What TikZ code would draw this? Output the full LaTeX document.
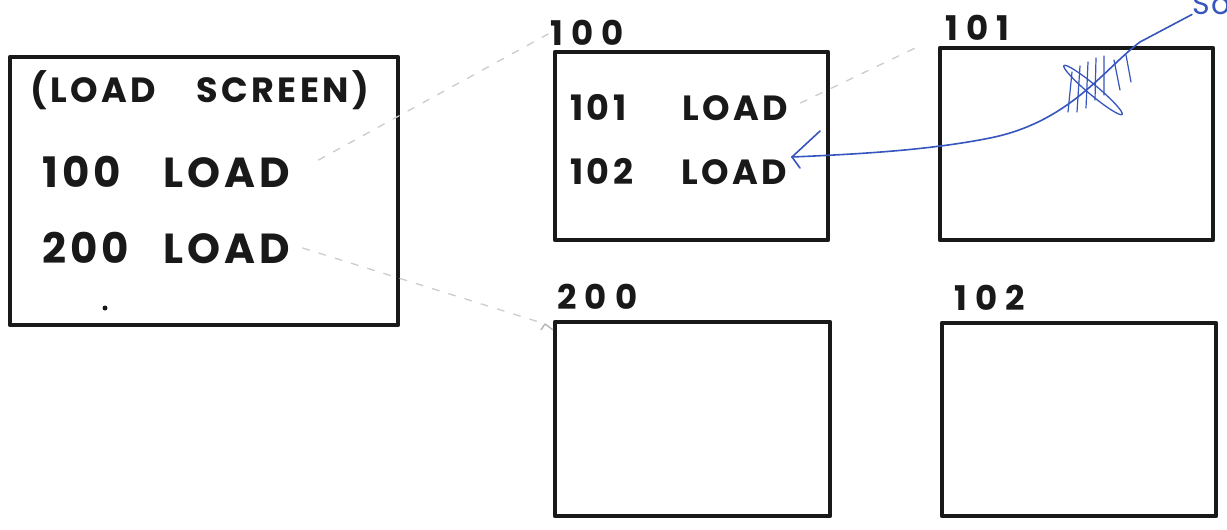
\documentclass[tikz,border=0pt]{standalone}
\usepackage{fontspec}
\newfontfamily\hand[LetterSpace=10]{Poppins}
\newfontfamily\handl[LetterSpace=24]{Poppins}
\newfontfamily\handb[LetterSpace=4]{Poppins}
\usetikzlibrary{calc}
\definecolor{ink}{RGB}{25,25,25}
\definecolor{pen}{RGB}{55,85,190}
\begin{document}
\begin{tikzpicture}[x=1pt,y=-1pt,
  screen/.style={draw=ink, line width=4.5pt, rectangle, inner sep=0pt, line join=round},
  bigtxt/.style={font=\hand\bfseries\fontsize{42}{46}\selectfont, text=ink, inner sep=0pt, anchor=west},
  midtxt/.style={font=\hand\bfseries\fontsize{35}{38}\selectfont, text=ink, inner sep=0pt, anchor=west},
  titletxt/.style={font=\hand\bfseries\fontsize{35}{38}\selectfont, text=ink, inner sep=0pt, anchor=west},
  lbltxt/.style={font=\handl\bfseries\fontsize{34}{38}\selectfont, text=ink, inner sep=0pt, anchor=west},
  faint/.style={draw=black!20, line width=1.3pt, dash pattern=on 7pt off 10pt, line cap=round},
  bluepen/.style={draw=pen, line width=1.6pt, line cap=round, line join=round}]
\useasboundingbox (0,0) rectangle (1227,530);
\fill[white] (0,0) rectangle (1227,530);

% boxes
\node[screen, minimum width=388pt, minimum height=268pt] (load) at (204,191) {};
\node[screen, minimum width=273pt, minimum height=188pt] (b100) at (691.5,146) {};
\node[screen, minimum width=273pt, minimum height=192pt] (b101) at (1076.5,144) {};
\node[screen, minimum width=275pt, minimum height=194pt] (b200) at (692.5,419) {};
\node[screen, minimum width=274pt, minimum height=193pt] (b102) at (1079,419.5) {};

% labels above boxes
\node[lbltxt] (lab100) at (550,33) {100};
\node[lbltxt] (lab101) at (945,28) {101};
\node[lbltxt] (lab200) at (557,297) {200};
\node[lbltxt] (lab102) at (954,298) {102};

% texts in load screen
\node[titletxt] (title) at (30,90) {(LOAD\hspace{40pt}SCREEN)};
\node[bigtxt] (l100) at (42,172) {100\hspace{42pt}LOAD};
\node[bigtxt] (l200) at (42,248) {200\hspace{34pt}LOAD};
\fill[ink] (105,308) circle (2.5);

% texts in box 100
\node[midtxt] (t101) at (570,108) {101\hspace{56pt}LOAD};
\node[midtxt] (t102) at (570,172) {102\hspace{48pt}LOAD};

% faint pencil connectors
\draw[faint] (l100.east) ++(28,-12) coordinate (f1s) -- (lab100.west);
\draw[faint] (l200.east) ++(12,0) coordinate (f2s) -- ($(lab200.south west)+(-12,14)$) coordinate (f2e);
\draw[black!30, line width=1.3pt] (f2e) -- ++(-4,6) (f2e) -- ++(8,6);
\draw[faint] (t101.east) ++(12,-5) coordinate (f3s) -- ($(b101.north west)+(-22,2)$);

% blue pen connector
\node[font=\handb\fontsize{30}{30}\selectfont, text=pen, anchor=base west, inner sep=0pt] (so) at (1192,14) {So};
\coordinate (bt) at (792,157);
\draw[bluepen] (so.south west) -- (1140,42) .. controls (1105,68) and (1070,122) .. (990,138)
  .. controls (930,150) and (862,154) .. (bt);
\draw[bluepen] (bt) -- (820,131);
\draw[bluepen] (bt) -- (800,168);
% scribble on box 101
\draw[bluepen, line width=1.3pt] (1093,90) ellipse [x radius=38, y radius=5, rotate=-40];
\draw[bluepen, line width=1.2pt]
  (1072,72) -- (1068,112) (1080,66) -- (1077,112) (1088,62) -- (1086,108)
  (1096,58) -- (1095,100) (1104,56) -- (1104,95) (1114,60) -- (1120,90)
  (1126,55) -- (1131,82);
\end{tikzpicture}
\end{document}
